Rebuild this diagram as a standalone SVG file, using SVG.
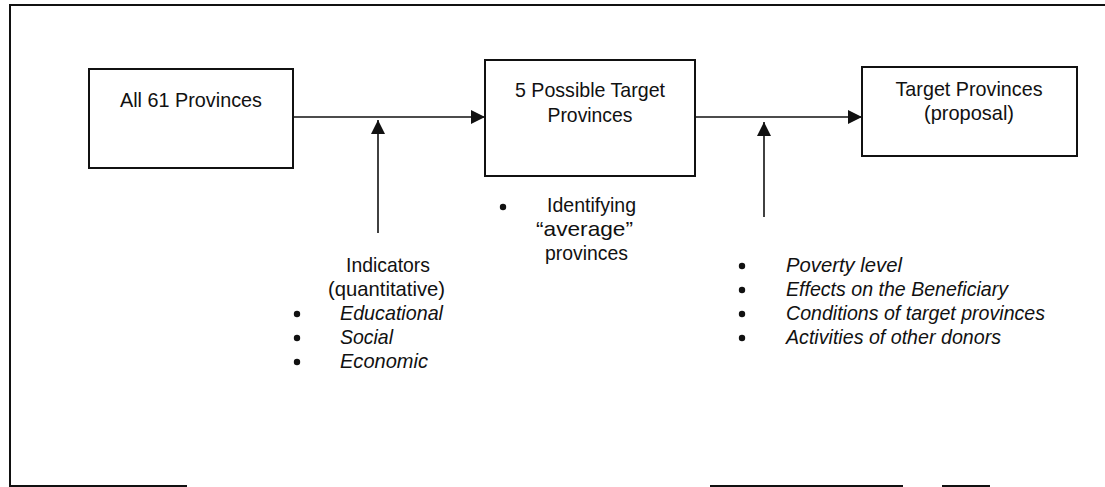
<svg xmlns="http://www.w3.org/2000/svg" width="1105" height="487" viewBox="0 0 1105 487">
  <style>
    .frame { stroke: #111; stroke-width: 2; fill: none; }
    .box { fill: #fff; stroke: #111; stroke-width: 2; }
    .conn { stroke: #111; stroke-width: 1.6; fill: none; }
    text { font-family: "Liberation Sans", Arial, sans-serif; font-size: 21px; fill: #111; }
    .mid { text-anchor: middle; }
    .it { font-style: italic; }
    .dot { fill: #111; }
  </style>
  <defs>
    <marker id="head" viewBox="0 0 14 14" refX="14" refY="7" markerWidth="14" markerHeight="14" markerUnits="userSpaceOnUse" orient="auto">
      <path d="M0,0 L14,7 L0,14 Z" fill="#111"/>
    </marker>
  </defs>

  <rect width="1105" height="487" fill="#fff"/>

  <!-- outer frame -->
  <g id="frame">
    <path class="frame" d="M10,486 L10,5 L1105,5"/>
    <path class="frame" d="M9,486 L130,486"/>
    <path class="frame" stroke-width="1" d="M130,486 L187,486"/>
    <path class="frame" stroke-width="1.5" d="M710,486 L903,486 M942,486 L990,486"/>
  </g>

  <!-- connectors -->
  <g id="connectors">
    <line class="conn" x1="293" y1="117" x2="485" y2="117" marker-end="url(#head)"/>
    <line class="conn" x1="695" y1="117" x2="862" y2="117" marker-end="url(#head)"/>
    <line class="conn" x1="378" y1="233" x2="378" y2="120" marker-end="url(#head)"/>
    <line class="conn" x1="764" y1="217" x2="764" y2="122" marker-end="url(#head)"/>
  </g>

  <g id="all-provinces">
    <rect class="box" x="89" y="69" width="204" height="99"/>
    <text class="mid" x="191" y="107" textLength="142" lengthAdjust="spacingAndGlyphs">All 61 Provinces</text>
  </g>

  <g id="possible-targets">
    <rect class="box" x="485" y="60" width="210" height="116"/>
    <text class="mid" x="590" y="97" textLength="150" lengthAdjust="spacingAndGlyphs">5 Possible Target</text>
    <text class="mid" x="590" y="122" textLength="85" lengthAdjust="spacingAndGlyphs">Provinces</text>
  </g>

  <g id="target-provinces">
    <rect class="box" x="862" y="67" width="215" height="89"/>
    <text class="mid" x="969" y="96" textLength="147" lengthAdjust="spacingAndGlyphs">Target Provinces</text>
    <text class="mid" x="969" y="120" textLength="90" lengthAdjust="spacingAndGlyphs">(proposal)</text>
  </g>

  <!-- note under the middle box -->
  <g id="average-note">
    <circle class="dot" cx="503" cy="207" r="3.2"/>
    <text x="547" y="212" textLength="89" lengthAdjust="spacingAndGlyphs">Identifying</text>
    <text x="536" y="236" textLength="97" lengthAdjust="spacingAndGlyphs">“average”</text>
    <text x="545" y="260" textLength="83" lengthAdjust="spacingAndGlyphs">provinces</text>
  </g>

  <!-- quantitative indicators -->
  <g id="indicators">
    <text x="346" y="272" textLength="84" lengthAdjust="spacingAndGlyphs">Indicators</text>
    <text x="328" y="296" textLength="117" lengthAdjust="spacingAndGlyphs">(quantitative)</text>
    <circle class="dot" cx="297" cy="314" r="3.2"/>
    <circle class="dot" cx="297" cy="338" r="3.2"/>
    <circle class="dot" cx="297" cy="362" r="3.2"/>
    <text class="it" x="340" y="320" textLength="103" lengthAdjust="spacingAndGlyphs">Educational</text>
    <text class="it" x="340" y="344" textLength="53" lengthAdjust="spacingAndGlyphs">Social</text>
    <text class="it" x="340" y="368" textLength="88" lengthAdjust="spacingAndGlyphs">Economic</text>
  </g>

  <!-- selection criteria -->
  <g id="criteria">
    <circle class="dot" cx="742" cy="266" r="3.2"/>
    <circle class="dot" cx="742" cy="290" r="3.2"/>
    <circle class="dot" cx="742" cy="314" r="3.2"/>
    <circle class="dot" cx="742" cy="338" r="3.2"/>
    <text class="it" x="786" y="272" textLength="116" lengthAdjust="spacingAndGlyphs">Poverty level</text>
    <text class="it" x="786" y="296" textLength="222" lengthAdjust="spacingAndGlyphs">Effects on the Beneficiary</text>
    <text class="it" x="786" y="320" textLength="259" lengthAdjust="spacingAndGlyphs">Conditions of target provinces</text>
    <text class="it" x="786" y="344" textLength="215" lengthAdjust="spacingAndGlyphs">Activities of other donors</text>
  </g>
</svg>
